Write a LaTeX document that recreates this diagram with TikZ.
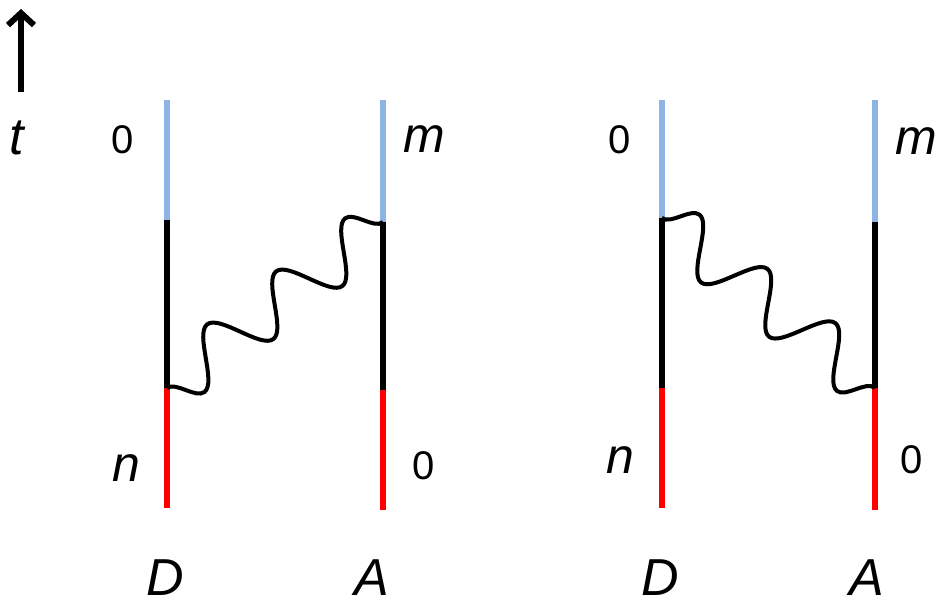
\documentclass[tikz,border=0pt]{standalone}
\usepackage{fontspec}
\setmainfont{Liberation Sans}
\usetikzlibrary{decorations.pathmorphing,arrows.meta}
\definecolor{lblue}{RGB}{142,180,227}
\definecolor{lred}{RGB}{255,0,0}
\begin{document}
\begin{tikzpicture}[x=1pt,y=-1pt,
  seg/.style={line width=6pt,line cap=butt},
  bluepart/.style={seg,draw=lblue},
  blackpart/.style={seg,draw=black},
  redpart/.style={seg,draw=lred},
  wave/.style={line width=4pt,decorate,decoration={snake,segment length=87pt,amplitude=#1}},
  letter/.style={inner sep=0pt,font=\fontsize{50}{52}\selectfont\itshape},
  big/.style={inner sep=0pt,font=\fontsize{52}{54}\selectfont\itshape},
  digit/.style={inner sep=0pt,font=\fontsize{40}{42}\selectfont}]
\useasboundingbox (0,0) rectangle (945,608);
% left diagram
\coordinate (LDt) at (167,100); \coordinate (LDb1) at (167,220); \coordinate (LDr1) at (167,388); \coordinate (LDe) at (167,508);
\coordinate (LAt) at (383,100); \coordinate (LAb1) at (383,222); \coordinate (LAr1) at (383,390); \coordinate (LAe) at (383,510);
% right diagram
\coordinate (RDt) at (662,100); \coordinate (RDb1) at (662,218); \coordinate (RDr1) at (662,388); \coordinate (RDe) at (662,508);
\coordinate (RAt) at (875,100); \coordinate (RAb1) at (875,222); \coordinate (RAr1) at (875,388); \coordinate (RAe) at (875,510);

\foreach \p in {LD,LA,RD,RA}{
  \draw[bluepart] (\p t) -- (\p b1);
  \draw[blackpart] (\p b1) -- (\p r1);
  \draw[redpart] (\p r1) -- (\p e);
}
% wavy lines
\draw[wave=-26pt] (LDr1) -- (LAb1);
\draw[wave=26pt] (RDb1) -- (RAr1);

% time arrow
\coordinate (ar0) at (21,92); \coordinate (ar1) at (21,9);
\draw[line width=6pt,-{Straight Barb[length=12pt,width=26pt,line width=6pt]}] (ar0) -- (ar1);
\node[big] (tlab) at (17,138) {t};

% labels
\node[digit] (z1) at (123,140) {0};
\node[letter] (m1) at (424,139) {m};
\node[letter] (n1) at (126,468) {n};
\node[digit] (z2) at (424,466) {0};
\node[big] (D1) at (165,578) {D};
\node[big] (A1) at (372,578) {A};

\node[digit] (z3) at (620,140) {0};
\node[letter] (m2) at (916,141) {m};
\node[letter] (n2) at (620,460) {n};
\node[digit] (z4) at (912,460) {0};
\node[big] (D2) at (660,578) {D};
\node[big] (A2) at (867,578) {A};
\end{tikzpicture}
\end{document}
